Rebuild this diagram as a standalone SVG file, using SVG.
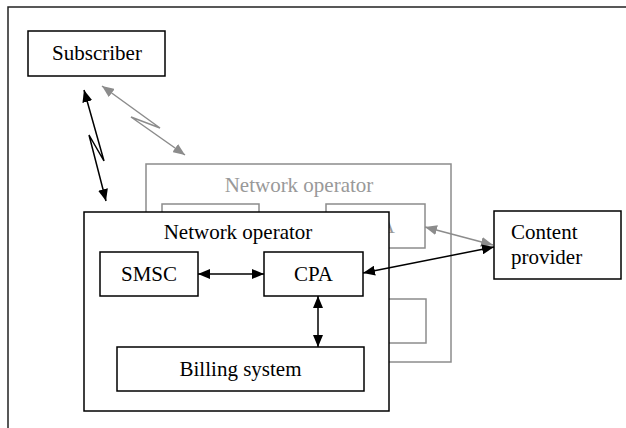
<svg xmlns="http://www.w3.org/2000/svg" width="626" height="428" viewBox="0 0 626 428">
<style>
  .box { fill: #fff; stroke: #000; stroke-width: 1.5; }
  .gbox { fill: #fff; stroke: #8c8c8c; stroke-width: 1.5; }
  .t { font-family: "Liberation Serif", "Times New Roman", serif; font-size: 21px; fill: #000; }
  .gt { font-family: "Liberation Serif", "Times New Roman", serif; font-size: 21px; fill: #999; }
  .c { fill: none; stroke: #000; stroke-width: 1.5; marker-start: url(#ab); marker-end: url(#ab); }
  .gc { fill: none; stroke: #8c8c8c; stroke-width: 1.5; marker-start: url(#ag); marker-end: url(#ag); }
</style>
<defs>
  <marker id="ab" viewBox="0 0 12 10" refX="12" refY="5" markerWidth="12" markerHeight="10" markerUnits="userSpaceOnUse" orient="auto-start-reverse">
    <path d="M0,0 L12,5 L0,10 z" fill="#000"/>
  </marker>
  <marker id="ag" viewBox="0 0 12 10" refX="12" refY="5" markerWidth="12" markerHeight="10" markerUnits="userSpaceOnUse" orient="auto-start-reverse">
    <path d="M0,0 L12,5 L0,10 z" fill="#8c8c8c"/>
  </marker>
</defs>
<rect id="frame" x="8" y="7" width="640" height="440" fill="#fff" stroke="#222" stroke-width="1.5"/>

<g id="gray-operator">
  <rect class="gbox" x="146" y="164" width="305" height="198"/>
  <text class="gt" x="299" y="192" text-anchor="middle">Network operator</text>
  <g id="gray-smsc">
    <rect class="gbox" x="162" y="204" width="97" height="44"/>
  </g>
  <g id="gray-cpa">
    <rect class="gbox" x="326" y="204" width="99" height="44"/>
    <text class="gt" x="375.5" y="233" text-anchor="middle">CPA</text>
  </g>
  <g id="gray-billing">
    <rect class="gbox" x="179" y="299" width="247" height="44"/>
  </g>
</g>

<g id="subscriber">
  <rect class="box" x="28" y="31" width="137" height="45"/>
  <text class="t" x="97" y="60" text-anchor="middle">Subscriber</text>
</g>

<g id="content-provider">
  <rect class="box" x="494" y="211" width="127" height="68"/>
  <text class="t" x="511" y="239">Content</text>
  <text class="t" x="511" y="264">provider</text>
</g>

<g id="gray-connectors">
  <path class="gc" d="M102,86 L160,128 L131,117 L185,155"/>
  <path class="gc" d="M425,227 L493,245"/>
</g>

<g id="network-operator">
  <rect class="box" x="84" y="212" width="305" height="199"/>
  <text class="t" x="238" y="239" text-anchor="middle">Network operator</text>
  <g id="smsc">
    <rect class="box" x="100" y="252" width="98" height="44"/>
    <text class="t" x="149" y="281" text-anchor="middle">SMSC</text>
  </g>
  <g id="cpa">
    <rect class="box" x="264" y="252" width="99" height="44"/>
    <text class="t" x="313.5" y="281" text-anchor="middle">CPA</text>
  </g>
  <g id="billing">
    <rect class="box" x="117" y="347" width="247" height="44"/>
    <text class="t" x="240.5" y="376" text-anchor="middle">Billing system</text>
  </g>
</g>

<g id="connectors">
  <path class="c" d="M198,274 L264,274"/>
  <path class="c" d="M318,296 L318,347"/>
  <path class="c" d="M363,273 L494,247"/>
  <path class="c" d="M84,90 L104,161 L89,135 L106,201"/>
</g>
</svg>
